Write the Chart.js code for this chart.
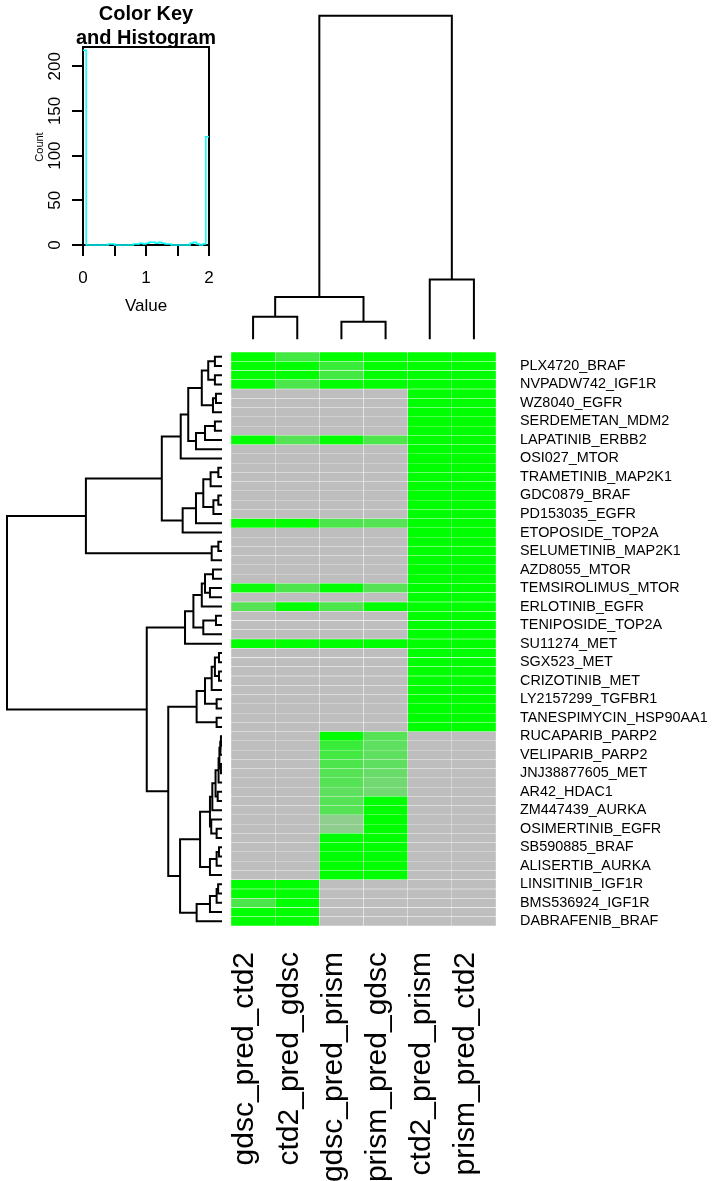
<!DOCTYPE html>
<html>
<head>
<meta charset="utf-8">
<script src="https://cdn.jsdelivr.net/npm/chart.js@4.4.1/dist/chart.umd.min.js"></script>
<style>
  html, body { margin: 0; padding: 0; background: #fff; }
  #page { position: relative; width: 716px; height: 1181px; overflow: hidden; }
  canvas { position: absolute; }
</style>
</head>
<body>
<div id="page">
  <canvas id="keyChart" width="231" height="340" style="left:0;top:0"></canvas>
  <canvas id="colDendro" width="265" height="345" style="left:231px;top:0"></canvas>
  <canvas id="rowDendro" width="231" height="574" style="left:0;top:352px"></canvas>
  <canvas id="heatmap" width="485" height="829" style="left:231px;top:352px"></canvas>
</div>
<script>
// heatmap with row / column dendrograms and a colour key histogram
const FONT = '"Liberation Sans", Arial, Helvetica, sans-serif';
Chart.defaults.font.family = FONT;
Chart.defaults.color = '#000';

const colLabels = ['gdsc_pred_ctd2', 'ctd2_pred_gdsc', 'gdsc_pred_prism', 'prism_pred_gdsc', 'ctd2_pred_prism', 'prism_pred_ctd2'];

// only every other row name is printed in the original, the rest are unreadable
const rowLabels = [
  '', 'PLX4720_BRAF', '', 'NVPADW742_IGF1R', '', 'WZ8040_EGFR', '', 'SERDEMETAN_MDM2', '', 'LAPATINIB_ERBB2',
  '', 'OSI027_MTOR', '', 'TRAMETINIB_MAP2K1', '', 'GDC0879_BRAF', '', 'PD153035_EGFR', '', 'ETOPOSIDE_TOP2A',
  '', 'SELUMETINIB_MAP2K1', '', 'AZD8055_MTOR', '', 'TEMSIROLIMUS_MTOR', '', 'ERLOTINIB_EGFR', '', 'TENIPOSIDE_TOP2A',
  '', 'SU11274_MET', '', 'SGX523_MET', '', 'CRIZOTINIB_MET', '', 'LY2157299_TGFBR1', '', 'TANESPIMYCIN_HSP90AA1',
  '', 'RUCAPARIB_PARP2', '', 'VELIPARIB_PARP2', '', 'JNJ38877605_MET', '', 'AR42_HDAC1', '', 'ZM447439_AURKA',
  '', 'OSIMERTINIB_EGFR', '', 'SB590885_BRAF', '', 'ALISERTIB_AURKA', '', 'LINSITINIB_IGF1R', '', 'BMS536924_IGF1R',
  '', 'DABRAFENIB_BRAF'
];

// cell values (0 = grey ... 2 = green), one array per column, rows top to bottom
const gdscPredCtd2 = [
  2, 2, 2, 2, 0, 0, 0, 0, 0, 2,
  0, 0, 0, 0, 0, 0, 0, 0, 2, 0,
  0, 0, 0, 0, 0, 1.9, 0, 1.1, 0, 0,
  0, 2, 0, 0, 0, 0, 0, 0, 0, 0,
  0, 0, 0, 0, 0, 0, 0, 0, 0, 0,
  0, 0, 0, 0, 0, 0, 0, 2, 2, 1.2,
  2, 2
];
const ctd2PredGdsc = [
  1.3, 2, 2, 1.2, 0, 0, 0, 0, 0, 1.1,
  0, 0, 0, 0, 0, 0, 0, 0, 2, 0,
  0, 0, 0, 0, 0, 1.2, 0, 2, 0, 0,
  0, 2, 0, 0, 0, 0, 0, 0, 0, 0,
  0, 0, 0, 0, 0, 0, 0, 0, 0, 0,
  0, 0, 0, 0, 0, 0, 0, 2, 2, 2,
  2, 2
];
const gdscPredPrism = [
  2, 1.4, 1.3, 2, 0, 0, 0, 0, 0, 2,
  0, 0, 0, 0, 0, 0, 0, 0, 1.2, 0,
  0, 0, 0, 0, 0, 2, 0, 1.2, 0, 0,
  0, 2, 0, 0, 0, 0, 0, 0, 0, 0,
  0, 2, 1.4, 1.3, 1.2, 1.1, 1.1, 1.0, 1.1, 1.1,
  0.5, 0.5, 2, 2, 2, 2, 2, 0, 0, 0,
  0, 0
];
const prismPredGdsc = [
  2, 2, 2, 2, 0, 0, 0, 0, 0, 1.2,
  0, 0, 0, 0, 0, 0, 0, 0, 1.1, 0,
  0, 0, 0, 0, 0, 1.1, 0, 2, 0, 0,
  0, 2, 0, 0, 0, 0, 0, 0, 0, 0,
  0, 1.1, 1.0, 1.0, 1.0, 0.9, 0.8, 0.8, 2, 2,
  2, 2, 2, 2, 2, 2, 2, 0, 0, 0,
  0, 0
];
const ctd2PredPrism = [
  2, 2, 2, 2, 2, 2, 2, 2, 2, 2,
  2, 2, 2, 2, 2, 2, 2, 2, 2, 2,
  2, 2, 2, 2, 2, 2, 2, 2, 2, 2,
  2, 2, 2, 2, 2, 2, 2, 2, 2, 2,
  2, 0, 0, 0, 0, 0, 0, 0, 0, 0,
  0, 0, 0, 0, 0, 0, 0, 0, 0, 0,
  0, 0
];
const prismPredCtd2 = [
  2, 2, 2, 2, 2, 2, 2, 2, 2, 2,
  2, 2, 2, 2, 2, 2, 2, 2, 2, 2,
  2, 2, 2, 2, 2, 2, 2, 2, 2, 2,
  2, 2, 2, 2, 2, 2, 2, 2, 2, 2,
  2, 0, 0, 0, 0, 0, 0, 0, 0, 0,
  0, 0, 0, 0, 0, 0, 0, 0, 0, 0,
  0, 0
];
const columns = [gdscPredCtd2, ctd2PredGdsc, gdscPredPrism, prismPredGdsc, ctd2PredPrism, prismPredCtd2];

// row clustering, hclust style: negative = leaf (row number), positive = earlier merge
const rowMergeA = [-1, -3, 1, -5, 4, 3, -8, 7, 8, 6, 10, -13, 12, -16, 14, 13, 16, 17, 11, -21,
  20, 19, -24, -26, 23, 25, -29, 27, 26, 29, -33, -35, 31, 33, -38, 34, -40, 36, -42, 39,
  -45, 40, 42, -48, 43, 45, -52, -51, 46, -54, 50, 51, 49, -58, 54, 55, 56, 53, 38, 30, 22];
const rowMergeB = [-2, -4, 2, -6, -7, 5, -9, -10, -11, 9, -12, -14, -15, -17, -18, 15, -19, -20, 18, -22,
  -23, 21, -25, -27, 24, -28, -30, -31, 28, -32, -34, -36, 32, -37, -39, 35, -41, 37, -43, -44,
  -46, 41, -47, -49, 44, -50, -53, 47, 48, -55, -56, -57, 52, -59, -60, -61, -62, 57, 58, 59, 60];
const rowMergeH = [0.33, 0.33, 0.64, 0.28, 0.42, 0.94, 0.33, 0.79, 1.21, 1.57, 1.92, 0.17, 0.53, 0.17, 0.40, 0.87, 1.21, 1.83, 2.80, 0.17,
  0.48, 6.33, 0.42, 0.56, 0.79, 0.94, 0.28, 0.87, 1.33, 1.72, 0.14, 0.14, 0.33, 0.48, 0.25, 0.79, 0.25, 1.18, 0.05, 0.08,
  0.05, 0.12, 0.16, 0.20, 0.30, 0.45, 0.25, 0.50, 0.56, 0.14, 0.25, 0.56, 1.02, 0.18, 0.25, 0.56, 1.18, 1.95, 2.50, 3.50, 10];

// column clustering
const colMergeA = [-1, -3, 1, -5, 3];
const colMergeB = [-2, -4, 2, -6, 4];
const colMergeH = [0.70, 0.54, 1.31, 1.85, 10];

// colour key histogram: 40 bins of width 0.05 over 0..2
const histBinWidth = 0.05;
const histCounts = [218, 0, 0, 0, 0, 0, 0, 0, 1, 1,
  0, 0, 0, 0, 0, 0, 1, 1, 2, 1,
  2, 3, 3, 2, 3, 2, 1, 1, 0, 0,
  0, 0, 0, 0, 2, 3, 1, 0, 1, 121];
const keyTicksX = [0, 0.5, 1, 1.5, 2];
const keyTicksY = [0, 50, 100, 150, 200];
const keyTitle = ['Color Key', 'and Histogram'];

const greyRGB = [190, 190, 190];
const greenRGB = [0, 255, 0];
function cellColor(v) {
  const t = v / 2;
  const c = greyRGB.map((g, k) => Math.round(g + (greenRGB[k] - g) * t));
  return `rgb(${c[0]},${c[1]},${c[2]})`;
}

// turn a merge table into one bracket line per merge
function dendroSets(mA, mB, mH, sideways) {
  const pos = [], ht = [];
  const nodePos = r => r < 0 ? -r - 0.5 : pos[r - 1];
  const nodeH = r => r < 0 ? 0 : ht[r - 1];
  return mA.map((a, k) => {
    const b = mB[k], h = mH[k];
    const pa = nodePos(a), pb = nodePos(b);
    const pts = [[pa, nodeH(a)], [pa, h], [pb, h], [pb, nodeH(b)]];
    pos.push((pa + pb) / 2);
    ht.push(h);
    return {
      data: pts.map(([p, v]) => sideways ? { x: v, y: p } : { x: p, y: v }),
      showLine: true,
      borderColor: '#000',
      borderWidth: 2,
      pointRadius: 0,
      clip: false
    };
  });
}

const noExtras = { legend: { display: false }, tooltip: { enabled: false } };
// stop the axes from adding label overhang padding to the plot area
const noPad = s => { s.paddingTop = 0; s.paddingBottom = 0; s.paddingLeft = 0; s.paddingRight = 0; };

// --- colour key ---
const keyPlugin = {
  id: 'keyText',
  beforeDatasetsDraw(chart) {
    const { ctx, chartArea: a } = chart;
    ctx.save();
    ctx.strokeStyle = '#000';
    ctx.lineWidth = 2;
    ctx.strokeRect(a.left, a.top, a.right - a.left, a.bottom - a.top);
    ctx.restore();
  },
  afterDraw(chart) {
    const { ctx, chartArea: a, scales: { x, y } } = chart;
    const cx = (a.left + a.right) / 2;
    ctx.save();
    ctx.fillStyle = '#000';
    ctx.textAlign = 'center';
    ctx.textBaseline = 'alphabetic';
    ctx.font = 'bold 20px ' + FONT;
    ctx.fillText(keyTitle[0], cx, 20);
    ctx.fillText(keyTitle[1], cx, 43.5);
    ctx.font = '17px ' + FONT;
    keyTicksX.filter(v => Number.isInteger(v)).forEach(v => {
      ctx.fillText(String(v), x.getPixelForValue(v), 283);
    });
    ctx.fillText('Value', cx, 311);
    keyTicksY.forEach(v => {
      ctx.save();
      ctx.translate(60, y.getPixelForValue(v));
      ctx.rotate(-Math.PI / 2);
      ctx.fillText(String(v), 0, 0);
      ctx.restore();
    });
    ctx.font = '11px ' + FONT;
    ctx.translate(43, 147);
    ctx.rotate(-Math.PI / 2);
    ctx.fillText('Count', 0, 0);
    ctx.restore();
  }
};

const histPoints = histCounts.map((c, i) => ({ x: i * histBinWidth, y: c }));
histPoints.push({ x: histCounts.length * histBinWidth, y: histCounts[histCounts.length - 1] });

new Chart(document.getElementById('keyChart'), {
  type: 'scatter',
  data: {
    datasets: [{
      data: histPoints,
      showLine: true,
      stepped: true,
      borderColor: '#00FFFF',
      borderWidth: 1.5,
      pointRadius: 0,
      clip: false
    }]
  },
  options: {
    responsive: false,
    animation: false,
    layout: { padding: { top: 47, right: 22, left: 0, bottom: 0 }, autoPadding: false },
    plugins: noExtras,
    scales: {
      x: {
        type: 'linear', min: 0, max: 2,
        afterBuildTicks: s => { s.ticks = keyTicksX.map(v => ({ value: v })); },
        afterFit: s => { s.height = 95; noPad(s); },
        grid: { drawOnChartArea: false, drawTicks: true, tickLength: 11, color: '#000', lineWidth: 2 },
        border: { display: false },
        ticks: { display: false }
      },
      y: {
        type: 'linear', min: 0, max: 221.5,
        afterBuildTicks: s => { s.ticks = keyTicksY.map(v => ({ value: v })); },
        afterFit: s => { s.width = 83; noPad(s); },
        grid: { drawOnChartArea: false, drawTicks: true, tickLength: 11, color: '#000', lineWidth: 2 },
        border: { display: false },
        ticks: { display: false }
      }
    }
  },
  plugins: [keyPlugin]
});

// --- column dendrogram ---
new Chart(document.getElementById('colDendro'), {
  type: 'scatter',
  data: { datasets: dendroSets(colMergeA, colMergeB, colMergeH, false) },
  options: {
    responsive: false,
    animation: false,
    layout: { padding: { top: 15.7, bottom: 5.7, left: 0, right: 0 }, autoPadding: false },
    plugins: noExtras,
    scales: {
      x: { type: 'linear', display: false, min: 0, max: colLabels.length },
      y: { type: 'linear', display: false, min: 0, max: 10 }
    }
  }
});

// --- row dendrogram ---
new Chart(document.getElementById('rowDendro'), {
  type: 'scatter',
  data: { datasets: dendroSets(rowMergeA, rowMergeB, rowMergeH, true) },
  options: {
    responsive: false,
    animation: false,
    layout: { padding: { top: 0, bottom: 0, left: 7, right: 9 }, autoPadding: false },
    plugins: noExtras,
    scales: {
      x: { type: 'linear', display: false, min: 0, max: 10, reverse: true },
      y: { type: 'linear', display: false, min: 0, max: rowLabels.length, reverse: true }
    }
  }
});

// --- heatmap cells ---
new Chart(document.getElementById('heatmap'), {
  type: 'bar',
  data: {
    labels: rowLabels,
    datasets: columns.map((vals, j) => ({
      data: vals.map(() => [j, j + 1]),
      backgroundColor: vals.map(cellColor),
      borderColor: 'rgba(255,255,255,0.22)',
      borderWidth: 0.5,
      borderSkipped: false,
      barPercentage: 1,
      categoryPercentage: 1,
      grouped: false
    }))
  },
  options: {
    indexAxis: 'y',
    responsive: false,
    animation: false,
    layout: { padding: 0, autoPadding: false },
    plugins: noExtras,
    scales: {
      x: {
        type: 'linear', min: 0, max: colLabels.length, position: 'bottom',
        afterBuildTicks: s => { s.ticks = colLabels.map((_, j) => ({ value: j + 0.5 })); },
        afterFit: s => { s.height = 255; noPad(s); },
        grid: { display: false, drawTicks: false },
        border: { display: false },
        ticks: {
          autoSkip: false, minRotation: 90, maxRotation: 90, padding: 26, labelOffset: -8,
          color: '#000', font: { size: 30 },
          callback: (v, i) => colLabels[i]
        }
      },
      y: {
        type: 'category', position: 'right', offset: true,
        afterFit: s => { s.width = 220; noPad(s); },
        grid: { display: false, drawTicks: false },
        border: { display: false },
        ticks: { autoSkip: false, padding: 24, color: '#000', font: { size: 14.4 } }
      }
    }
  }
});
</script>
</body>
</html>
